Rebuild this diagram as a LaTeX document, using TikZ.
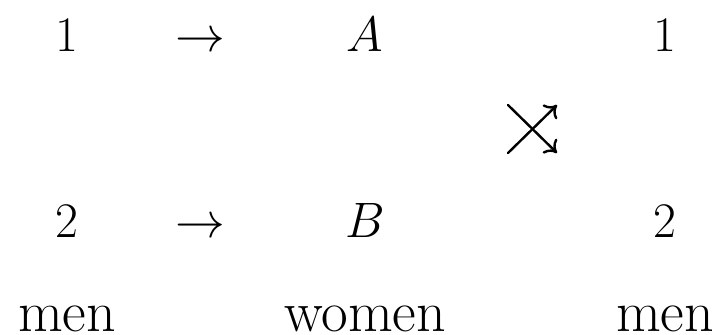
\documentclass[tikz,border=0pt]{standalone}
\usepackage{amsmath}
\usetikzlibrary{arrows.meta}
\begin{document}
\begin{tikzpicture}[x=0.5pt,y=-0.5pt,
  lbl/.style={inner sep=0pt, anchor=base, font=\fontsize{29}{34}\selectfont},
  crossarrow/.style={line width=1.2pt, -{Computer Modern Rightarrow[length=5.5pt,width=10pt]}, line cap=round}]
\useasboundingbox (0,0) rectangle (720,334);
% row 1
\node[lbl] (oneL) at (67,51) {$1$};
\node[lbl] (arrA) at (200,51) {$\rightarrow$};
\node[lbl] (A) at (365,51) {$A$};
\node[lbl] (oneR) at (665,51) {$1$};
% cross
\coordinate (xul) at (508,105);
\coordinate (xur) at (557,105);
\coordinate (xll) at (508,153);
\coordinate (xlr) at (557,153);
\draw[crossarrow] (xll) -- (xur);
\draw[crossarrow] (xul) -- (xlr);
% row 3
\node[lbl] (twoL) at (67,237) {$2$};
\node[lbl] (arrB) at (200,237) {$\rightarrow$};
\node[lbl] (B) at (365,237) {$B$};
\node[lbl] (twoR) at (665,237) {$2$};
% labels
\node[lbl] (menL) at (67,331) {men};
\node[lbl] (women) at (365,331) {women};
\node[lbl] (menR) at (665,331) {men};
\end{tikzpicture}
\end{document}
